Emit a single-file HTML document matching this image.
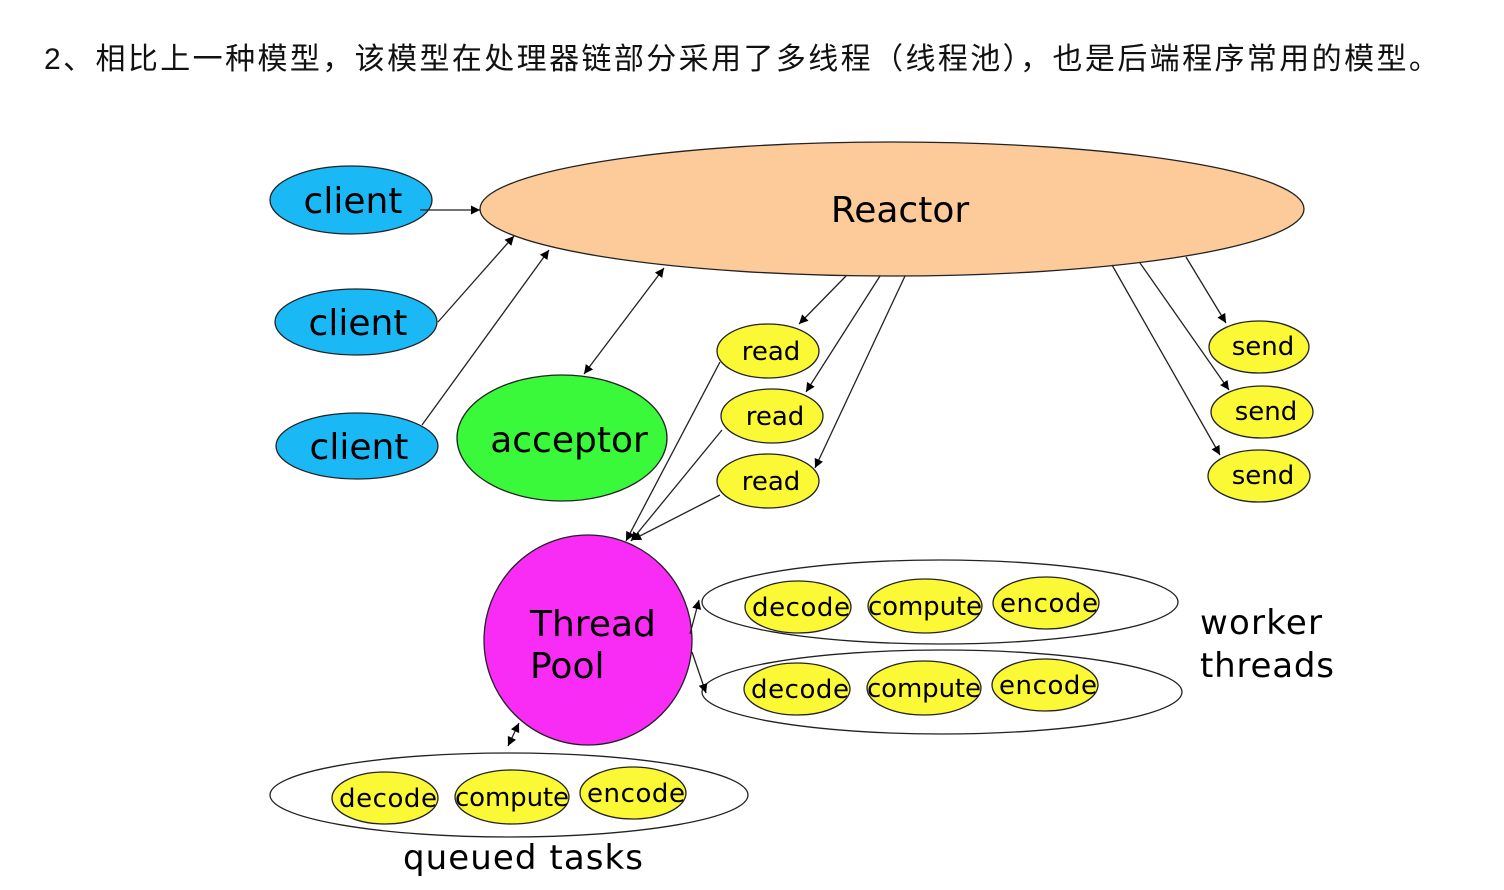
<!DOCTYPE html>
<html><head><meta charset="utf-8"><style>
body{margin:0;background:#fff;width:1504px;height:890px;overflow:hidden}
.t{position:absolute;left:44px;top:34px;font:30px "Liberation Sans","Noto Sans CJK SC",sans-serif;color:#111;letter-spacing:2.4px;white-space:nowrap}
svg{position:absolute;left:0;top:0}
text{font-family:"DejaVu Sans",sans-serif;fill:#000}
</style></head><body>
<div class="t">2、相比上一种模型，该模型在处理器链部分采用了多线程（线程池），也是后端程序常用的模型。</div>
<svg width="1504" height="890" viewBox="0 0 1504 890">
<defs><marker id="a" viewBox="0 0 10 10" refX="10" refY="5" markerWidth="7" markerHeight="7" orient="auto-start-reverse"><path d="M0,0L10,5L0,10z" fill="#000"/></marker></defs>
<g stroke="#222" stroke-width="1.3" fill="none">
<ellipse cx="892" cy="209" rx="412" ry="67" fill="#fdca9a"/>
<ellipse cx="351" cy="200" rx="81" ry="34" fill="#1ab8f5"/>
<ellipse cx="356" cy="322" rx="81" ry="33" fill="#1ab8f5"/>
<ellipse cx="357" cy="446" rx="81" ry="33" fill="#1ab8f5"/>
<ellipse cx="562" cy="438" rx="105" ry="63" fill="#3af83a"/>
<ellipse cx="768" cy="351" rx="51" ry="27" fill="#fbf835"/>
<ellipse cx="772" cy="416" rx="51" ry="27" fill="#fbf835"/>
<ellipse cx="768" cy="481" rx="51" ry="27" fill="#fbf835"/>
<ellipse cx="1259" cy="347" rx="50" ry="26" fill="#fbf835"/>
<ellipse cx="1262" cy="412" rx="51" ry="26" fill="#fbf835"/>
<ellipse cx="1259" cy="476" rx="51" ry="26" fill="#fbf835"/>
<ellipse cx="588" cy="640" rx="104" ry="105" fill="#f92cf6"/>
<ellipse cx="940" cy="602" rx="238" ry="42"/>
<ellipse cx="942" cy="692" rx="240" ry="42"/>
<ellipse cx="509" cy="795" rx="239" ry="42"/>
<g fill="#fbf835">
<ellipse cx="798" cy="607" rx="53" ry="26"/><ellipse cx="925" cy="606" rx="57" ry="27"/><ellipse cx="1046" cy="603" rx="53" ry="26"/>
<ellipse cx="797" cy="689" rx="53" ry="26"/><ellipse cx="924" cy="688" rx="57" ry="27"/><ellipse cx="1045" cy="685" rx="53" ry="26"/>
<ellipse cx="385" cy="798" rx="53" ry="26"/><ellipse cx="512" cy="797" rx="57" ry="27"/><ellipse cx="633" cy="793" rx="53" ry="26"/>
</g>
<g marker-end="url(#a)">
<line x1="420" y1="210" x2="480" y2="210"/>
<line x1="438" y1="322" x2="514" y2="236"/>
<line x1="422" y1="425" x2="549" y2="250"/>
<line x1="584" y1="374" x2="664" y2="268" marker-start="url(#a)"/>
<line x1="846" y1="276" x2="799" y2="324"/>
<line x1="880" y1="276" x2="806" y2="392"/>
<line x1="905" y1="276" x2="815" y2="468"/>
<line x1="720" y1="362" x2="626" y2="541"/>
<line x1="722" y1="430" x2="631" y2="541"/>
<line x1="720" y1="495" x2="632" y2="540"/>
<line x1="1186" y1="257" x2="1226" y2="323"/>
<line x1="1140" y1="263" x2="1229" y2="390"/>
<line x1="1112" y1="265" x2="1220" y2="455"/>
<line x1="690" y1="634" x2="699" y2="600"/>
<line x1="692" y1="652" x2="706" y2="693"/>
<line x1="519" y1="723" x2="508" y2="746" marker-start="url(#a)"/>
</g></g>
<g font-size="36" text-anchor="middle">
<text x="900" y="222">Reactor</text>
<text x="353" y="213">client</text><text x="358" y="335">client</text><text x="359" y="459">client</text>
<text x="569" y="452">acceptor</text>
</g>
<g font-size="26" text-anchor="middle">
<text x="771" y="360">read</text><text x="775" y="425">read</text><text x="771" y="490">read</text>
<text x="1263" y="355">send</text><text x="1266" y="420">send</text><text x="1263" y="484">send</text>
<text x="801" y="616" textLength="98">decode</text><text x="925" y="615" textLength="114">compute</text><text x="1049" y="612" textLength="98">encode</text>
<text x="800" y="698" textLength="98">decode</text><text x="924" y="697" textLength="114">compute</text><text x="1048" y="694" textLength="98">encode</text>
<text x="388" y="807" textLength="98">decode</text><text x="512" y="806" textLength="114">compute</text><text x="636" y="802" textLength="98">encode</text>
</g>
<g font-size="36"><text x="530" y="636">Thread</text><text x="530" y="678">Pool</text></g>
<g font-size="34"><text x="1200" y="634" textLength="122">worker</text><text x="1200" y="677" textLength="134">threads</text>
<text x="403" y="869" textLength="240">queued tasks</text></g>
</svg>
</body></html>
